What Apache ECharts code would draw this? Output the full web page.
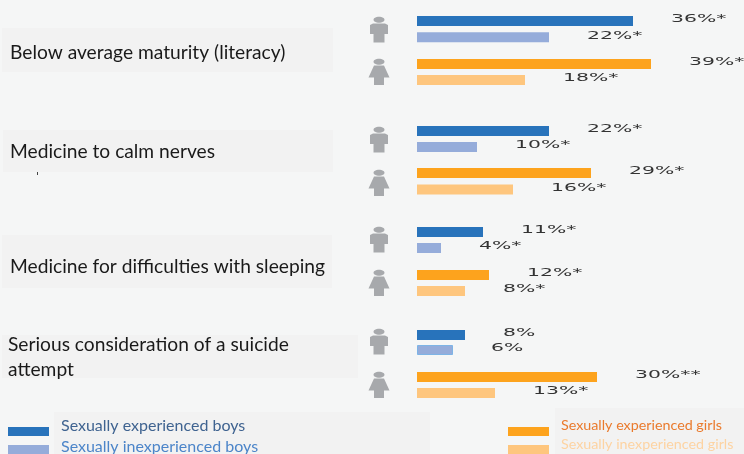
<!DOCTYPE html>
<html><head><meta charset="utf-8">
<style>html,body{margin:0;padding:0;background:#f5f6f6}#c{width:744px;height:454px}</style>
<script src="https://cdn.jsdelivr.net/npm/echarts@6/dist/echarts.min.js"></script>
</head><body><div id="c"></div>
<script>
const categories = ['Below average maturity (literacy)','Medicine to calm nerves','Medicine for difficulties with sleeping','Serious consideration of a suicide\nattempt'];
const seriesNames = ['Sexually experienced boys','Sexually inexperienced boys','Sexually experienced girls','Sexually inexperienced girls'];
const expBoys = [36,22,11,8];
const inexpBoys = [22,10,4,6];
const expGirls = [39,29,12,30];
const inexpGirls = [18,16,8,13];
const expBoysLabels = ['36%*','22%*','11%*','8%'];
const inexpBoysLabels = ['22%*','10%*','4%*','6%'];
const expGirlsLabels = ['39%*','29%*','12%*','30%**'];
const inexpGirlsLabels = ['18%*','16%*','8%*','13%*'];

const values = [expBoys, inexpBoys, expGirls, inexpGirls];
const valueLabels = [expBoysLabels, inexpBoysLabels, expGirlsLabels, inexpGirlsLabels];
const colors = ['#2873bb','#95acda','#fda31d','#fec67e'];
const rowCenters = [[21,37.3,64,80],[131,147,173,189.5],[232,248,275,291],[335,350,377,393]];
const panels = [[2,28,331,44],[3,130,330,42],[2,235,330,53],[2,335,356,43],[54,412,376,42],[555,408,189,46]];
const textPos = [[10,53],[10,152],[10,267],[8,357]];
const boyIconY = [17,127,227,329];
const girlIconY = [59,170,270,372];
const gray = '#a7a9ac';

const grid=[],xAxis=[],yAxis=[],series=[];
let idx=0;
rowCenters.forEach((rows,g)=>{
  rows.forEach((cy,k)=>{
    const i=idx++;
    grid.push({left:417,width:270,top:cy-8,height:16});
    xAxis.push({gridIndex:i,type:'value',min:0,max:45,show:false});
    yAxis.push({gridIndex:i,type:'category',data:[categories[g]],show:false});
    const itemStyle={color:colors[k]};
    if(g===3&&k===1){itemStyle.borderColor='#7db4e6';itemStyle.borderWidth=1;}
    series.push({type:'bar',name:seriesNames[k],xAxisIndex:i,yAxisIndex:i,barWidth:10,itemStyle,
      data:[values[k][g]],silent:true,animation:false});
    const txt=valueLabels[k][g];
    series.push({type:'custom',xAxisIndex:i,yAxisIndex:i,silent:true,animation:false,clip:false,
      data:[[values[k][g],0]],encode:{x:0,y:1},
      renderItem:(p,api)=>{
        const c=api.coord([api.value(0),categories[g]]);
        return {type:'text',x:c[0]+38,y:c[1]-1.5,scaleX:1.85,scaleY:1,
          style:{text:txt,fontFamily:'DejaVu Sans',fontSize:11,fill:'#333',textAlign:'left',textVerticalAlign:'middle'}};
      }});
  });
});

const graphic=[];
panels.forEach(p=>graphic.push({type:'rect',shape:{x:p[0],y:p[1],width:p[2],height:p[3]},style:{fill:'#f2f2f2'},z:0,silent:true}));
categories.forEach((t,i)=>graphic.push({type:'text',x:textPos[i][0],y:textPos[i][1],z:1,silent:true,
  style:{text:t,fontFamily:'Lato',fontSize:19.2,lineHeight:25,fill:'#1a1a1a',textVerticalAlign:'middle'}}));
graphic.push({type:'rect',shape:{x:37,y:172,width:1,height:3},style:{fill:'#444'},z:1,silent:true});
const cx=379;
boyIconY.forEach(y=>{
  graphic.push({type:'ellipse',shape:{cx,cy:y+2.8,rx:5.5,ry:3},style:{fill:gray},z:1,silent:true});
  graphic.push({type:'polygon',shape:{points:[[cx-6,y+6.5],[cx+6,y+6.5],[cx+9,y+8],[cx+9,y+17],[cx+5.5,y+17],[cx+5.5,y+25.5],[cx-5.5,y+25.5],[cx-5.5,y+17],[cx-9,y+17],[cx-9,y+8]]},style:{fill:gray},z:1,silent:true});
});
girlIconY.forEach(y=>{
  graphic.push({type:'ellipse',shape:{cx,cy:y+2.8,rx:5.5,ry:3},style:{fill:gray},z:1,silent:true});
  graphic.push({type:'polygon',shape:{points:[[cx-5,y+6.5],[cx+5,y+6.5],[cx+10.5,y+18.5],[cx+5,y+18.5],[cx+5,y+26],[cx-5,y+26],[cx-5,y+18.5],[cx-10.5,y+18.5]]},style:{fill:gray},z:1,silent:true});
});

const legendText=[[61,426,'#3f6390',16],[61,447,'#4c85c9',16],[561,425,'#ea7a2c',14.3],[561,444,'#fdd3a2',14.3]];
legendText.forEach((l,i)=>graphic.push({type:'text',x:l[0],y:l[1],z:1,silent:true,
  style:{text:seriesNames[i],fontFamily:'Lato',fontSize:l[3],fill:l[2],textVerticalAlign:'middle'}}));

function legendItem(i,left,top){
  return {orient:'vertical',left,top,padding:0,itemWidth:41,itemHeight:9,icon:'rect',selectedMode:false,
    formatter:()=>'',data:[seriesNames[i]]};
}
const chart=echarts.init(document.getElementById('c'),null,{renderer:'canvas'});
chart.setOption({
  animation:false,backgroundColor:'#f5f6f6',
  grid,xAxis,yAxis,series,graphic,
  legend:[legendItem(0,8,427),legendItem(1,8,445),legendItem(2,508,427),legendItem(3,508,445)]
});
</script></body></html>
